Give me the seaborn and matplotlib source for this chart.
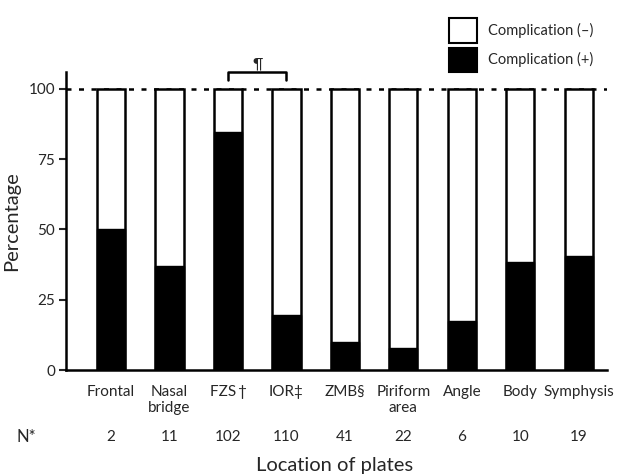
import matplotlib
matplotlib.use("Agg")
import matplotlib.pyplot as plt
import matplotlib.transforms as mtransforms
from matplotlib.patches import Patch
import seaborn as sns
import pandas as pd

categories = ["Frontal", "Nasal\nbridge", "FZS\u2009\u2020", "IOR\u2021", "ZMB\u00a7",
              "Piriform\narea", "Angle", "Body", "Symphysis"]
n_values = [2, 11, 102, 110, 41, 22, 6, 10, 19]
comp_pos = [50, 37, 84.5, 19.5, 10, 8, 17.5, 38.5, 40.5]
total = [100] * len(categories)

sns.set_style("white")
plt.rcParams["font.family"] = ["Lato", "DejaVu Sans"]

df = pd.DataFrame({"loc": categories, "total": total, "pos": comp_pos})

fig = plt.figure(figsize=(6.27, 4.74), dpi=100)
ax = fig.add_axes([0.1053, 0.2194, 0.8627, 0.6286])

sns.barplot(data=df, x="loc", y="total", color="white", edgecolor="black",
            linewidth=1.8, width=0.48, ax=ax, saturation=1)
sns.barplot(data=df, x="loc", y="pos", color="black", edgecolor="black",
            linewidth=1.0, width=0.48, ax=ax, saturation=1)

ax.set_xlim(-0.77, 8.48)
ax.set_ylim(0, 106)
ax.axhline(100, color="black", linestyle=(0, (2, 3)), linewidth=1.8, zorder=0)

for s in ["top", "right"]:
    ax.spines[s].set_visible(False)
for s in ["left", "bottom"]:
    ax.spines[s].set_linewidth(1.8)
    ax.spines[s].set_color("black")

ax.set_yticks([0, 25, 50, 75, 100])
ax.tick_params(axis="y", which="both", left=True, length=5, width=1.5,
               labelsize=11, pad=3, direction="out")
ax.tick_params(axis="x", bottom=False, labelsize=11, pad=7)
ax.set_xticks(range(len(categories)))
ax.set_xticklabels(categories, va="top", linespacing=1.2)
ax.set_ylabel("Percentage", fontsize=14.5, labelpad=6)
ax.set_xlabel("")

# N row
trans = mtransforms.blended_transform_factory(ax.transData, fig.transFigure)
for i, n in enumerate(n_values):
    ax.text(i, 1 - 437 / 474, str(n), transform=trans, ha="center", va="center",
            fontsize=11)
fig.text(17 / 627, 1 - 437 / 474, "N*", ha="left", va="center", fontsize=12)
fig.text(335 / 627, 1 - 465 / 474, "Location of plates", ha="center",
         va="center", fontsize=14.5)

# bracket between FZS and IOR
ax.plot([2, 2, 3, 3], [103.3, 106, 106, 103.3], color="black", lw=1.8,
        clip_on=False)
ax.text(2.5, 106.3, "\u00b6", ha="center", va="bottom", fontsize=10.5)

# legend
handles = [Patch(facecolor="white", edgecolor="black", linewidth=1.5,
                 label="Complication (\u2013)"),
           Patch(facecolor="black", edgecolor="black", linewidth=1.5,
                 label="Complication (+)")]
fig.legend(handles=handles, loc="upper left", bbox_to_anchor=(436 / 627, 1 - 5 / 474),
           frameon=False, fontsize=10.5, handlelength=1.9, handleheight=2.2,
           handletextpad=0.8, labelspacing=0.35)

fig.savefig("out.png", dpi=100)
